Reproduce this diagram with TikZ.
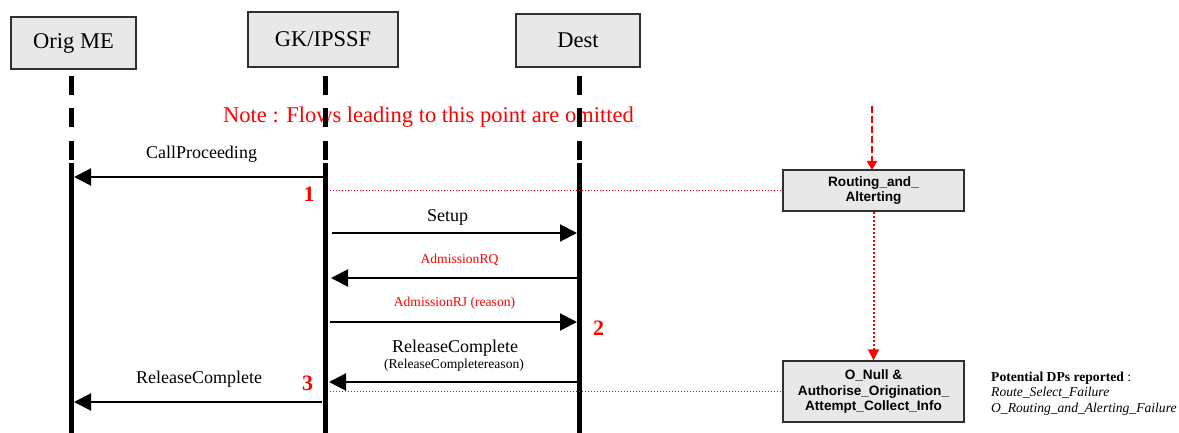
\documentclass[tikz,border=0pt]{standalone}
\usepackage{fontspec}
\setmainfont{Liberation Serif}
\newfontfamily\arialf{Liberation Sans}
\usetikzlibrary{arrows.meta}
\definecolor{boxgray}{HTML}{E8E8E8}
\definecolor{boxline}{HTML}{303030}
\begin{document}
\begin{tikzpicture}[x=1pt,y=-1pt,
  entity/.style={draw=boxline,line width=1.5pt,fill=boxgray,inner sep=0pt,
    font=\fontsize{22.5}{27}\selectfont},
  pointbox/.style={draw=boxline,line width=1.5pt,fill=boxgray,inner sep=0pt,
    minimum width=181pt,align=center,font=\arialf\bfseries\fontsize{13.6}{15.5}\selectfont},
  lifedash/.style={line width=5pt,dash pattern=on 19pt off 13.5pt},
  lifesolid/.style={line width=5pt},
  msg/.style={line width=2pt,-{Triangle[length=17pt,width=17pt]}},
  bigtxt/.style={anchor=base,inner sep=0pt,font=\fontsize{18}{21}\selectfont},
  smalltxt/.style={anchor=base,inner sep=0pt,font=\fontsize{13.6}{16}\selectfont},
  numtxt/.style={anchor=base,inner sep=0pt,text=red,font=\bfseries\fontsize{22}{26}\selectfont},
  reddot/.style={red,line width=1pt,dash pattern=on 1pt off 2pt},
  dptxt/.style={anchor=base west,inner sep=0pt,font=\fontsize{13.6}{15.5}\selectfont}
]
\useasboundingbox (0,0) rectangle (1179,433);

% entity boxes
\node[entity,minimum width=125pt,minimum height=52pt] (orig) at (73.5,43) {Orig ME};
\node[entity,minimum width=150pt,minimum height=55pt] (gk) at (323,39.5) {GK/IPSSF};
\node[entity,minimum width=124pt,minimum height=53pt] (dest) at (578,40.5) {Dest};

% note text (under lifelines)
\node[anchor=base west,inner sep=0pt,text=red,font=\fontsize{22.5}{27}\selectfont] (note) at (223,123)
  {Note : Flows leading to this point are omitted};

% lifeline coordinates
\foreach \n/\x in {o/71.5,g/325,d/579.5}{
  \coordinate (\n top) at (\x,76);
  \coordinate (\n dend) at (\x,160);
  \coordinate (\n sstart) at (\x,163);
  \coordinate (\n bot) at (\x,433);
}
\foreach \n in {o,g,d}{
  \draw[lifedash] (\n top) -- (\n dend);
  \draw[lifesolid] (\n sstart) -- (\n bot);
}

% message end points
\coordinate (cp1) at (323,177);  \coordinate (cp2) at (74,177);
\coordinate (su1) at (332,233);  \coordinate (su2) at (577,233);
\coordinate (rq1) at (577,278);  \coordinate (rq2) at (331,278);
\coordinate (rj1) at (330,322);  \coordinate (rj2) at (577,322);
\coordinate (rc1) at (577,382);  \coordinate (rc2) at (329,382);
\coordinate (rl1) at (322,402);  \coordinate (rl2) at (74,402);

\draw[msg] (cp1) -- (cp2);
\draw[msg] (su1) -- (su2);
\draw[msg] (rq1) -- (rq2);
\draw[msg] (rj1) -- (rj2);
\draw[msg] (rc1) -- (rc2);
\draw[msg] (rl1) -- (rl2);

% message labels
\node[bigtxt] (lcp) at (201.5,159) {CallProceeding};
\node[bigtxt] (lsu) at (447.5,222) {Setup};
\node[smalltxt,text=red] (lrq) at (459.5,263) {AdmissionRQ};
\node[smalltxt,text=red] (lrj) at (454.5,306) {AdmissionRJ (reason)};
\node[bigtxt] (lrc) at (455,352) {ReleaseComplete};
\node[smalltxt] (lrcr) at (454,368) {(ReleaseCompletereason)};
\node[bigtxt] (lrl) at (199,383) {ReleaseComplete};

% numbers
\node[numtxt] (n1) at (309,201) {1};
\node[numtxt] (n2) at (598.5,335) {2};
\node[numtxt] (n3) at (307.5,390) {3};

% point-in-call boxes
\node[pointbox,minimum height=41pt] (routing) at (873.5,190.5) {Routing\_and\_\\Alterting};
\node[pointbox,minimum height=61pt] (onull) at (873.5,391.5) {O\_Null \&\\Authorise\_Origination\_\\Attempt\_Collect\_Info};

% red dotted links
\coordinate (d1) at (330,190.5);
\coordinate (d3) at (330,391.5);
\draw[reddot] (d1) -- (routing.west);
\draw[reddot] (d3) -- (onull.west);

% red arrows between boxes
\coordinate (ntop) at (872,106);
\coordinate (nbot) at (872,170);
\draw[red,line width=2pt,dash pattern=on 7pt off 3pt,-{Triangle[length=9pt,width=10pt]}] (ntop) -- (nbot);
\draw[red,line width=2pt,dash pattern=on 2pt off 2pt,-{Triangle[length=11pt,width=11pt]}] (routing.south) -- (onull.north);

% potential DPs text
\node[dptxt] (dp1) at (991,381) {\textbf{Potential DPs reported} :};
\node[dptxt] (dp2) at (991,396) {\textit{Route\_Select\_Failure}};
\node[dptxt] (dp3) at (991,412) {\textit{O\_Routing\_and\_Alerting\_Failure}};
\end{tikzpicture}
\end{document}
